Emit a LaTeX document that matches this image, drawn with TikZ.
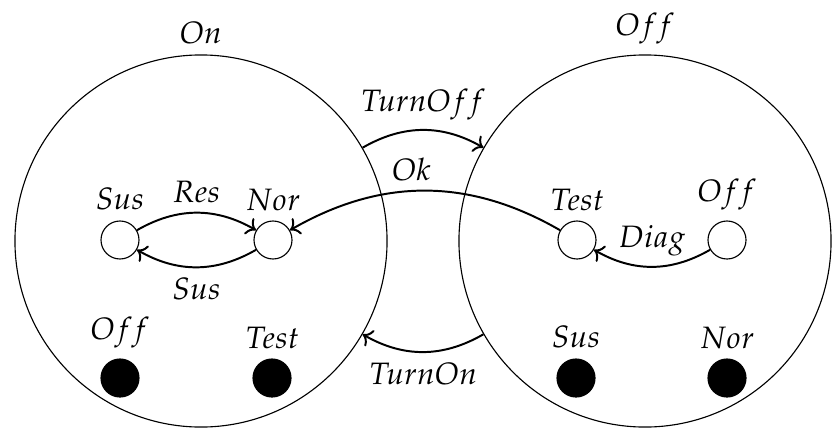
\documentclass[tikz,border=0pt]{standalone}
\usepackage{mathpazo}
\usetikzlibrary{arrows.meta}
\tikzset{big/.style={draw,circle,minimum size=4.65cm,inner sep=0pt,line width=.4pt},
 st/.style={draw,circle,minimum size=4.75mm,inner sep=0pt,line width=.4pt},
 fst/.style={st,fill=black},
 arr/.style={->,line width=.7pt},
 every node/.style={font=\fontsize{11}{13}\selectfont}}
\begin{document}
\begin{tikzpicture}[x=0.0125cm,y=-0.0125cm]
\useasboundingbox (0,0) rectangle (832,430);
\node[big,label=above:$On$] (on) at (201,241) {};
\node[big,label=above:$Off$] (off) at (645,241) {};
\node[st,label=above:$Sus$] (sus) at (120,240) {};
\node[st,label=above:$Nor$] (nor) at (273,240) {};
\node[st,label=above:$Test$] (test) at (577,240) {};
\node[st,label=above:$Off$] (offi) at (727,240) {};
\node[fst,label=above:$Off$] (offa) at (120,378) {};
\node[fst,label=above:$Test$] (testa) at (272,378) {};
\node[fst,label=above:$Sus$] (susa) at (576,378) {};
\node[fst,label=above:$Nor$] (nora) at (727,378) {};
\draw[arr] (sus) to[bend left=30] node[above]{$Res$} (nor);
\draw[arr] (nor) to[bend left=30] node[below]{$Sus$} (sus);
\draw[arr] (test) to[bend right=30] node[pos=.55,above]{$Ok$} (nor);
\draw[arr] (offi) to[bend left=30] node[above]{$Diag$} (test);
\draw[arr] (on.30) to[bend left=30] node[above]{$TurnOff$} (off.150);
\draw[arr] (off.210) to[bend left=30] node[below]{$TurnOn$} (on.330);
\end{tikzpicture}
\end{document}
